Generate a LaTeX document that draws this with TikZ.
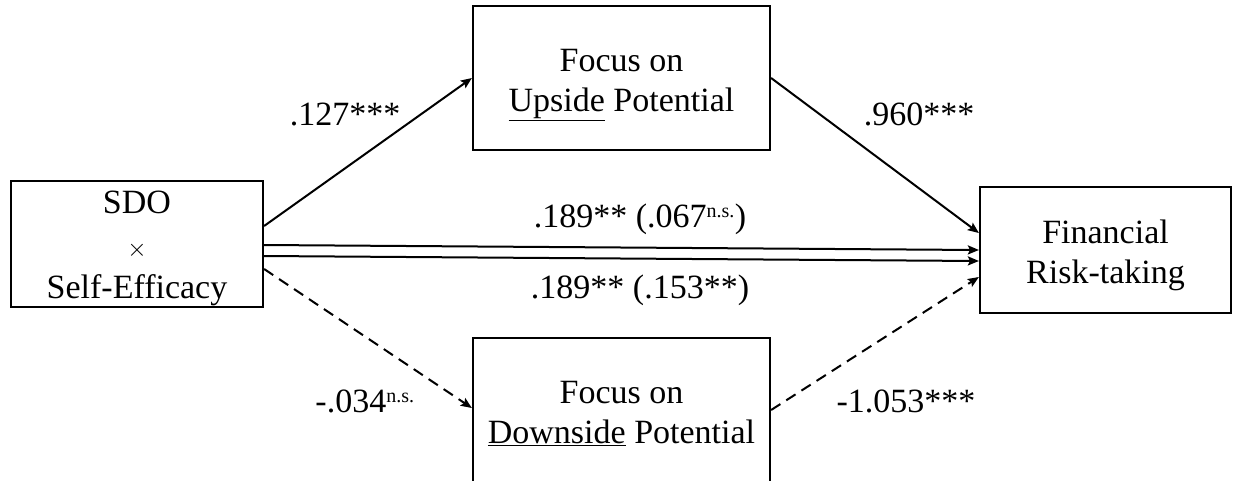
\documentclass[tikz,border=0pt]{standalone}
\usepackage{fontspec}
\setmainfont{Liberation Serif}
\usetikzlibrary{arrows.meta,calc}
\newcommand{\boxtxt}[2]{\raisebox{#1}[0pt][0pt]{\begin{tabular}{@{}c@{}}#2\end{tabular}}}
\begin{document}
\begin{tikzpicture}[x=1pt,y=-1pt,
  box/.style={draw,line width=2.2pt,minimum width=#1,inner sep=0pt,align=center,font=\fontsize{34}{40}\selectfont},
  conn/.style={line width=2pt,-{Stealth[length=11pt,width=9pt,inset=2pt]}},
  dconn/.style={conn,dash pattern=on 11pt off 7pt},
  lbl/.style={anchor=base,inner sep=0pt,font=\fontsize{34}{40}\selectfont}]
\useasboundingbox (0,0) rectangle (1233,480);
\clip (0,0) rectangle (1233,480);
\node[box=252pt,minimum height=126pt] (L) at (137,244) {\boxtxt{-10.5pt}{SDO\\[2.5pt]{\fontsize{30}{30}\selectfont$\times$}\\[2.5pt]Self-Efficacy}};
\node[box=297pt,minimum height=144pt] (U) at (621.5,78) {\boxtxt{-11.5pt}{Focus on\\\underline{Upside} Potential}};
\node[box=297pt,minimum height=144pt] (D) at (621.5,410) {\boxtxt{-12pt}{Focus on\\\underline{Downside} Potential}};
\node[box=251pt,minimum height=126pt] (R) at (1105.5,250) {\boxtxt{-11.5pt}{Financial\\Risk-taking}};
\draw[conn] ($(L.east)+(0,-18)$) -- (U.west);
\draw[conn] (U.east) -- ($(R.west)+(0,-17)$);
\draw[conn] ($(L.east)+(0,1)$) -- ($(R.west)+(0,0)$);
\draw[conn] ($(L.east)+(0,12)$) -- ($(R.west)+(0,11)$);
\draw[dconn] ($(L.east)+(0,25)$) -- ($(D.west)+(0,-2)$);
\draw[dconn] (D.east) -- ($(R.west)+(0,27)$);
\node[lbl] (l1) at (345,125) {.127***};
\node[lbl] (l2) at (919,125) {.960***};
\node[lbl] (l3) at (640,227) {.189** (.067\textsuperscript{\fontsize{20}{22}\selectfont n.s.})};
\node[lbl] (l4) at (640,298) {.189** (.153**)};
\node[lbl] (l5) at (365,412) {-.034\textsuperscript{\fontsize{20}{22}\selectfont n.s.}};
\node[lbl] (l6) at (906,412) {-1.053***};
\end{tikzpicture}
\end{document}
